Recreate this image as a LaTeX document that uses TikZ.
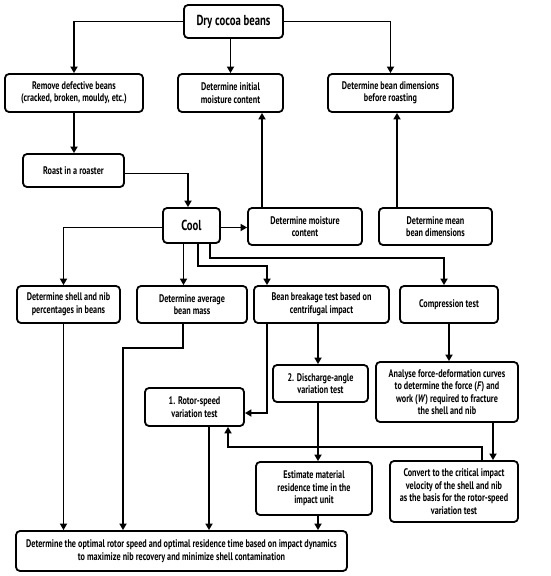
\documentclass[tikz,border=0pt]{standalone}
\usepackage{fontspec}
\setmainfont{PT Sans}[FakeStretch=0.74]
\usetikzlibrary{arrows.meta,calc}
\tikzset{every path/.style={black},
  box/.style={draw,line width=1.8pt,rounded corners=4pt,align=center,inner sep=1pt,font=\bfseries\fontsize{11}{12.5}\selectfont},
  arr/.style={line width=1.9pt,-{Triangle[length=6.5pt,width=7pt]}}}

\begin{document}
\begin{tikzpicture}[x=1pt,y=-1pt]
   \useasboundingbox (0,0) rectangle (550,576);
   % top row
   \node[box,minimum width=99pt,minimum height=33pt,font=\bfseries\fontsize{14.5}{16}\selectfont] (dry) at (233.5,21.5) {Dry cocoa beans};
   \node[box,minimum width=138pt,minimum height=38pt] (remove) at (74,93) {Remove defective beans\\(cracked, broken, mouldy, etc.)};
   \node[box,minimum width=105pt,minimum height=38pt] (initm) at (230.5,93) {Determine initial\\moisture content};
   \node[box,minimum width=125pt,minimum height=38pt] (dimb) at (390.5,93) {Determine bean dimensions\\before roasting};
   \node[box,minimum width=101pt,minimum height=33pt] (roast) at (73.5,170.5) {Roast in a roaster};
   % cooling row
   \node[box,minimum width=57pt,minimum height=35pt,font=\bfseries\fontsize{14.5}{16}\selectfont] (cool) at (191.5,225.5) {Cool};
   \node[box,minimum width=114pt,minimum height=37pt] (moist) at (305,226.5) {Determine moisture\\content};
   \node[box,minimum width=113pt,minimum height=37pt] (meandim) at (435.5,226.5) {Determine mean\\bean dimensions};
   % tests
   \node[box,minimum width=103pt,minimum height=37pt] (shell) at (68.5,304.5) {Determine shell and nib\\percentages in beans};
   \node[box,minimum width=110pt,minimum height=37pt] (mass) at (192,304.5) {Determine average\\bean mass};
   \node[box,minimum width=135pt,minimum height=37pt] (brk) at (321.5,304.5) {Bean breakage test based on\\centrifugal impact};
   \node[box,minimum width=98pt,minimum height=37pt] (comp) at (449,304.5) {Compression test};
   \node[box,minimum width=95pt,minimum height=37pt] (disc) at (320.5,383.5) {2. Discharge-angle\\variation test};
   \node[box,minimum width=99pt,minimum height=38pt] (rotor) at (194.5,407) {1. Rotor-speed\\variation test};
   \node[box,minimum width=142pt,minimum height=60pt] (anal) at (447,392) {Analyse force-deformation curves\\to determine the force (\textit{F}) and\\work (\textit{W}) required to fracture\\the shell and nib};
   \node[box,minimum width=116pt,minimum height=53pt] (est) at (314,488.5) {Estimate material\\residence time in the\\impact unit};
   \node[box,minimum width=128pt,minimum height=61pt] (conv) at (454,491.5) {Convert to the critical impact\\velocity of the shell and nib\\as the basis for the rotor-speed\\variation test};
   \node[box,minimum width=331pt,minimum height=40pt] (final) at (181.5,551) {Determine the optimal rotor speed and optimal residence time based on impact dynamics\\to maximize nib recovery and minimize shell contamination};

   % connectors
   \draw[arr] (dry.west) -| (remove.north);
   \draw[arr] (initm.north |- dry.south) -- (initm.north);
   \draw[arr] (dry.east) -| (dimb.north);
   \draw[arr] (remove.south) -- (remove.south |- roast.north);
   \draw[arr] ([yshift=-3pt]roast.east) -| ([xshift=-3.5pt]cool.north);
   \draw[arr] ([yshift=-2pt]cool.east) -- ([yshift=-2pt]cool.east -| moist.west);
   \draw[arr] ([xshift=-43pt]moist.north) -- ([xshift=-43pt]moist.north |- initm.south);
   \draw[arr] ([xshift=-38.5pt]meandim.north) -- ([xshift=-38.5pt]meandim.north |- dimb.south);
   \draw[arr] ([yshift=-2pt]cool.west) -| ([xshift=-5pt]shell.north);
   \draw[arr] ([xshift=-8pt]cool.south) -- ([xshift=-8pt]cool.south |- mass.north);
   \draw[arr] ([xshift=6.5pt]cool.south) |- (267,266) -- (267,266 |- brk.north);
   \draw[arr] ([xshift=18.5pt]cool.south) |- (444,258) -- (444,258 |- comp.north);
   \draw[arr] ([xshift=-5pt]shell.south) -- ([xshift=-5pt]shell.south |- final.north);
   \draw[arr] ([xshift=-9pt]mass.south) |- (123,348) -- (123,348 |- final.north);
   \draw[arr] ([xshift=-54.5pt]brk.south) |- ([yshift=-6pt]rotor.east);
   \draw[arr] ([xshift=-3.5pt]brk.south) -- ([xshift=-3.5pt]brk.south |- disc.north);
   \draw[arr] (comp.south) -- (comp.south |- anal.north);
   \draw[arr] ([xshift=-2.5pt]disc.south) -- ([xshift=-2.5pt]disc.south |- est.north);
   \draw[arr] ([xshift=46pt]anal.south) -- ([xshift=46pt]anal.south |- conv.north);
   \draw[arr] ([xshift=28pt]conv.north) |- (228,447) -- (228,447 |- rotor.south);
   \draw[arr] ([xshift=14.5pt]rotor.south) -- ([xshift=14.5pt]rotor.south |- final.north);
   \draw[arr] ([xshift=4pt]est.south) -- ([xshift=4pt]est.south |- final.north);
\end{tikzpicture}
\end{document}
